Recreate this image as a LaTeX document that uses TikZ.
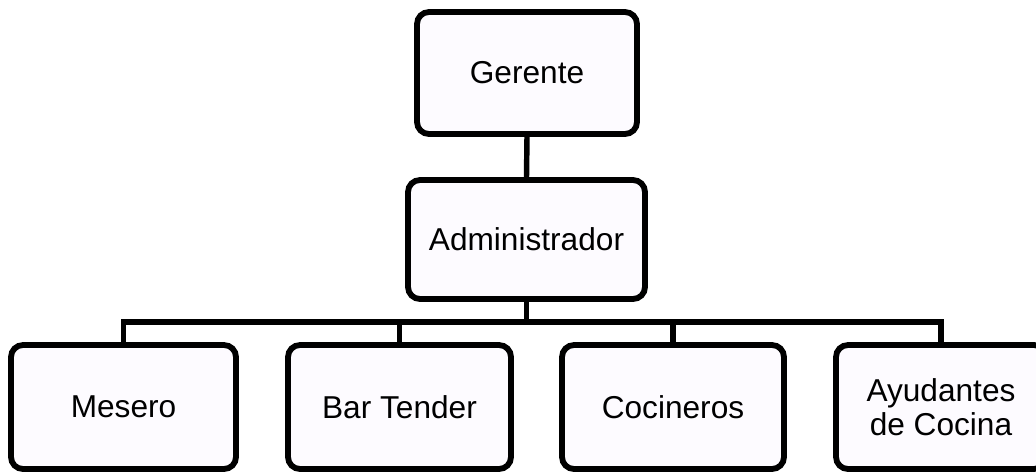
\documentclass[tikz,border=0pt]{standalone}
\usepackage{fontspec}
\setmainfont{Liberation Sans}
\usetikzlibrary{positioning}

\begin{document}
\begin{tikzpicture}[
    puesto/.style={rectangle, draw, line width=3.3pt, rounded corners=2.4mm,
      fill={rgb,255:red,253;green,251;blue,255}, minimum height=2.48cm,
      align=center, font=\fontsize{18}{19}\selectfont},
    enlace/.style={line width=3.1pt}
  ]
    %organigrama
    \useasboundingbox (0,0) rectangle (20.72,-9.46);
    \node[puesto, minimum width=4.4cm, minimum height=2.44cm](G) at (10.54,-1.46) {Gerente};
    \node[puesto, minimum width=4.74cm, minimum height=2.38cm](A) at (10.53,-4.79) {Administrador};
    \node[puesto, minimum width=4.5cm](M) at (2.47,-8.14) {Mesero};
    \node[puesto, minimum width=4.46cm](B) at (7.99,-8.14) {Bar Tender};
    \node[puesto, minimum width=4.44cm](C) at (13.46,-8.14) {Cocineros};
    \node[puesto, minimum width=4.2cm](Y) at (18.82,-8.14) {Ayudantes\\de Cocina};
    \coordinate (bus) at (0,-6.44);
    \draw[enlace] (G.south) -- (A.north);
    \draw[enlace] (A.south) -- (A.south |- bus);
    \draw[enlace] (M.north) |- (Y.north |- bus) -- (Y.north);
    \draw[enlace] (B.north) -- (B.north |- bus);
    \draw[enlace] (C.north) -- (C.north |- bus);
\end{tikzpicture}
\end{document}
